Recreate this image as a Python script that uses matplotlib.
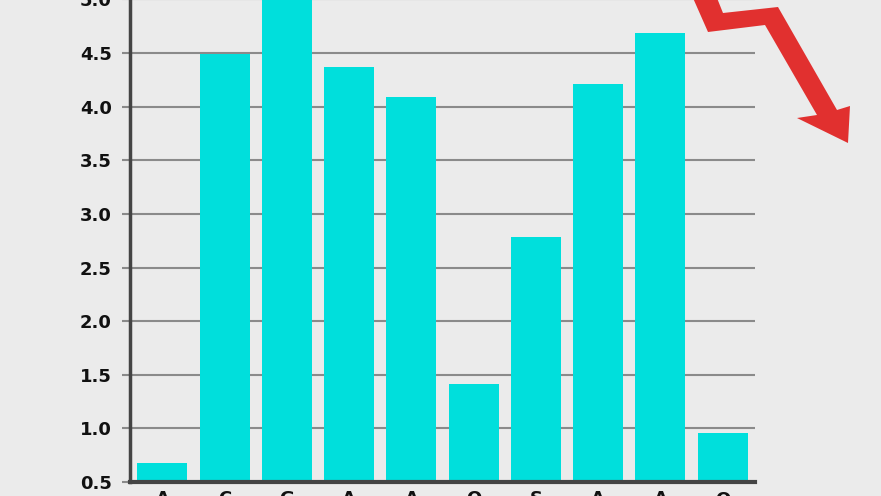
import matplotlib
matplotlib.use("Agg")
import matplotlib.pyplot as plt
from matplotlib.patches import Polygon

# bar values (3rd bar runs off the top)
labels = ["A", "C", "G", "A", "A", "O", "S", "A", "A", "Q"]
values = [0.68, 4.49, 5.3, 4.37, 4.09, 1.41, 2.78, 4.21, 4.69, 0.96]
yticks = [0.5, 1.0, 1.5, 2.0, 2.5, 3.0, 3.5, 4.0, 4.5, 5.0]

bg = "#ebebeb"
bar_color = "#00dfdc"

W, H = 881, 496
fig = plt.figure(figsize=(W / 100, H / 100), dpi=100, facecolor=bg)
ax = fig.add_axes([130 / W, 14 / H, 625 / W, 482.6 / H])
ax.set_facecolor(bg)

x = list(range(len(values)))
ax.bar(x, values, width=0.8, color=bar_color, zorder=3)

ax.set_xlim(-0.52, len(values) - 0.48)
ax.set_ylim(0.5, 5.0)
ax.set_yticks(yticks)
ax.set_yticklabels([f"{v:.1f}" for v in yticks])
ax.set_xticks(x)
ax.set_xticklabels(labels)

ax.grid(axis="y", color="#8a8a8a", linewidth=1.5, zorder=1)
ax.tick_params(axis="y", length=6, width=1.5, color="#8a8a8a", pad=7)
ax.tick_params(axis="x", length=0, pad=6)
for t in ax.get_yticklabels() + ax.get_xticklabels():
    t.set_fontfamily("DejaVu Sans")
    t.set_fontweight("bold")
    t.set_fontsize(13)
    t.set_color("#111111")

for s in ["top", "right"]:
    ax.spines[s].set_visible(False)
ax.spines["left"].set_color("#444444")
ax.spines["left"].set_linewidth(2.5)
ax.spines["bottom"].set_color("#444444")
ax.spines["bottom"].set_linewidth(3)
ax.spines["left"].set_zorder(4)
ax.spines["bottom"].set_zorder(4)

# red down arrow decoration (pixel outline, y from top)
arrow_px = [(693, -2), (708, 32), (765, 25), (817, 115), (797, 118), (848, 143),
            (850, 106), (837, 110), (778, 7), (723, 13), (717, -2)]
arrow = Polygon([(px / W, 1 - py / H) for px, py in arrow_px], closed=True,
                transform=fig.transFigure, facecolor="#e1302f", edgecolor="none")
fig.patches.append(arrow)

fig.savefig("out.png", dpi=100, facecolor=bg)
